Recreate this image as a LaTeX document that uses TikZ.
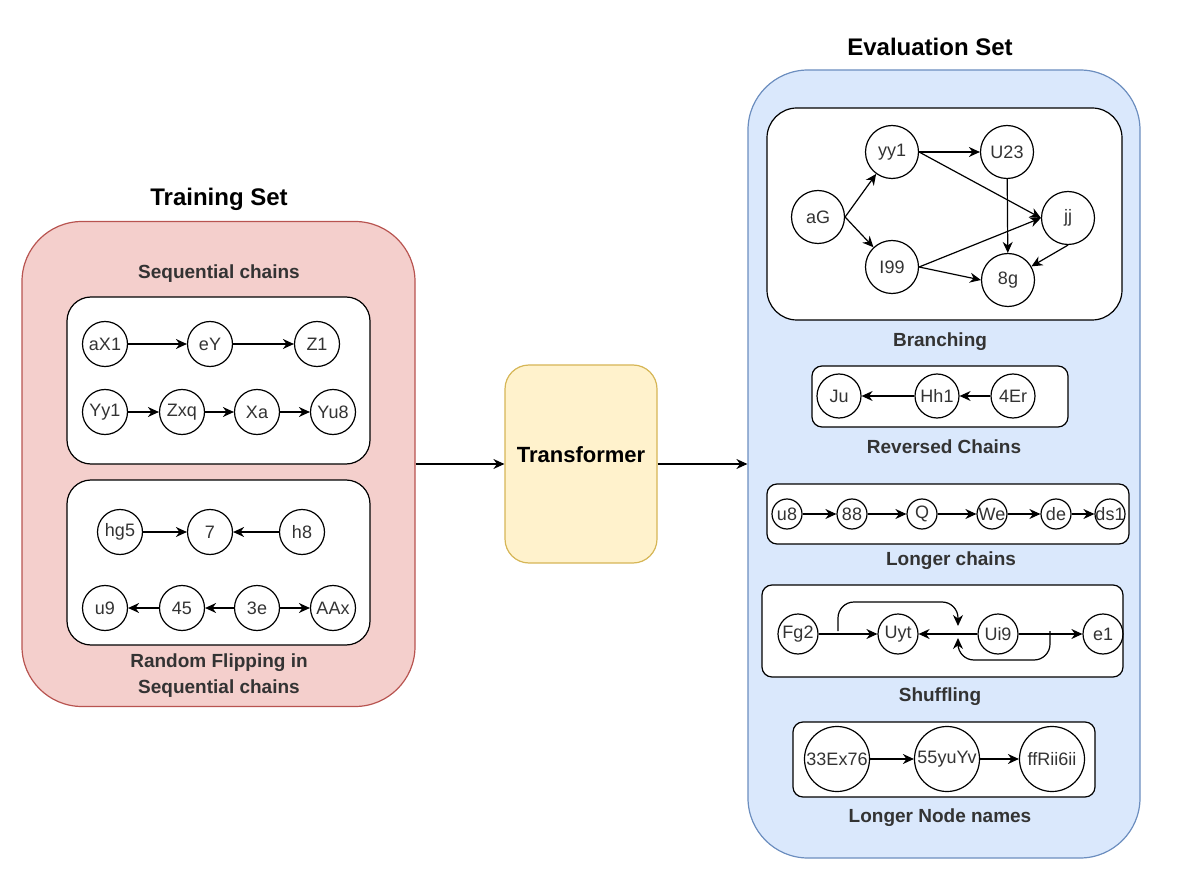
\documentclass[tikz,border=0pt]{standalone}
\usepackage{fontspec}
\setmainfont{Liberation Sans}
\setsansfont{Liberation Sans}
\usetikzlibrary{arrows.meta}
\definecolor{trainfill}{HTML}{F4CFCC}
\definecolor{traindraw}{HTML}{B85450}
\definecolor{evalfill}{HTML}{DAE8FC}
\definecolor{evaldraw}{HTML}{6C8EBF}
\definecolor{transfill}{HTML}{FFF2CC}
\definecolor{transdraw}{HTML}{D6B656}
\definecolor{txtgray}{HTML}{333333}
\begin{document}
\begin{tikzpicture}[x=0.5pt,y=-0.5pt,
	vtx/.style={circle,draw,line width=0.6pt,inner sep=0pt,minimum size=#1,font=\fontsize{9}{10}\selectfont,text=txtgray},
	vtx/.default=22.5pt,
	box/.style={draw,line width=0.6pt,inner sep=0pt,fill=white},
	arr/.style={-{Stealth[length=5.5pt,width=5pt]},line width=0.6pt},
	title/.style={font=\fontsize{12}{14}\selectfont\bfseries},
	sub/.style={font=\fontsize{9.5}{13}\selectfont\bfseries,text=txtgray,align=center}]
	\useasboundingbox (0,0) rectangle (1200,882);
	% the three big blocks
	\node[draw=traindraw,fill=trainfill,line width=0.6pt,rounded corners=30pt,minimum width=196.5pt,minimum height=242.5pt] (train) at (218.5,464) {};
	\node[draw=transdraw,fill=transfill,line width=0.6pt,rounded corners=12pt,minimum width=76pt,minimum height=99pt] (trans) at (581,464) {};
	\node[draw=evaldraw,fill=evalfill,line width=0.6pt,rounded corners=30pt,minimum width=196pt,minimum height=394pt] (eval) at (944,464) {};
	\node[title] (traintitle) at (219,199) {Training Set};
	\node[title] (evaltitle) at (930,47) {Evaluation Set};
	\node[title,font=\fontsize{11}{13}\selectfont\bfseries] (transtxt) at (581,455) {Transformer};
	\draw[arr] (train.east) -- (trans.west);
	\draw[arr] (trans.east) -- (eval.west);
	% training set
	\node[sub] (seqtxt) at (219,274) {Sequential chains};
	\node[box,rounded corners=12pt,minimum width=151.5pt,minimum height=83.5pt] (seqbox) at (218.5,380.5) {};
	\node[vtx] (aX1) at (105,344) {aX1};
	\node[vtx] (eY) at (210,344) {eY};
	\node[vtx] (Z1) at (317,344) {Z1};
	\node[vtx] (Yy1) at (105,412) {Yy1};
	\node[vtx] (Zxq) at (182,412) {Zxq};
	\node[vtx] (Xa) at (257,412) {Xa};
	\node[vtx] (Yu8) at (333,412) {Yu8};
	\draw[arr] (aX1) -- (eY);
	\draw[arr] (eY) -- (Z1);
	\draw[arr] (Yy1) -- (Zxq);
	\draw[arr] (Zxq) -- (Xa);
	\draw[arr] (Xa) -- (Yu8);
	\node[box,rounded corners=12pt,minimum width=151.5pt,minimum height=82.5pt] (flipbox) at (218.5,562.5) {};
	\node[vtx] (hg5) at (120,532) {hg5};
	\node[vtx] (n7) at (210,532) {7};
	\node[vtx] (h8) at (302,532) {h8};
	\node[vtx] (u9) at (105,608) {u9};
	\node[vtx] (n45) at (182,608) {45};
	\node[vtx] (n3e) at (257,608) {3e};
	\node[vtx] (AAx) at (333,608) {AAx};
	\draw[arr] (hg5) -- (n7);
	\draw[arr] (h8) -- (n7);
	\draw[arr] (n45) -- (u9);
	\draw[arr] (n3e) -- (n45);
	\draw[arr] (n3e) -- (AAx);
	\node[sub] (fliptxt) at (219,676) {Random Flipping in\\Sequential chains};
	% evaluation set
	\node[box,rounded corners=15pt,minimum width=177.5pt,minimum height=106pt] (branchbox) at (944.5,214) {};
	\node[vtx=26.5pt] (aG) at (818,217) {aG};
	\node[vtx=26.5pt] (yy1) at (892,152) {yy1};
	\node[vtx=26.5pt] (U23) at (1007,152) {U23};
	\node[vtx=26.5pt] (jj) at (1068,218) {jj};
	\node[vtx=26.5pt] (I99) at (892,267) {I99};
	\node[vtx=26.5pt] (g8) at (1008,280) {8g};
	\draw[arr] (aG.east) -- (yy1);
	\draw[arr] (aG.east) -- (I99);
	\draw[arr] (yy1) -- (U23);
	\draw[arr] (yy1.east) -- (jj.west);
	\draw[arr] (I99.east) -- (jj.west);
	\draw[arr] (I99.east) -- (g8.west);
	\draw[arr] (U23) -- (g8);
	\draw[arr] (jj.south) -- (g8);
	\node[sub] (branchtxt) at (940,342) {Branching};
	\node[box,rounded corners=5pt,minimum width=128pt,minimum height=30.5pt] (revbox) at (940,396.5) {};
	\node[vtx=22pt] (Ju) at (839,396) {Ju};
	\node[vtx=22pt] (Hh1) at (937,396) {Hh1};
	\node[vtx=22pt] (Er4) at (1013,396) {4Er};
	\draw[arr] (Hh1) -- (Ju);
	\draw[arr] (Er4) -- (Hh1);
	\node[sub] (revtxt) at (944,447) {Reversed Chains};
	\node[box,rounded corners=5pt,minimum width=181pt,minimum height=30pt] (longbox) at (948,514) {};
	\node[vtx=15pt,inner sep=-3pt] (u8) at (787,514) {u8};
	\node[vtx=15pt,inner sep=-3pt] (n88) at (852,514) {88};
	\node[vtx=15pt,inner sep=-3pt] (Q) at (922,514) {Q};
	\node[vtx=15pt,inner sep=-3pt] (We) at (992,514) {We};
	\node[vtx=15pt,inner sep=-3pt] (de) at (1056,514) {de};
	\node[vtx=15pt,inner sep=-3pt] (ds1) at (1110,514) {ds1};
	\draw[arr] (u8) -- (n88);
	\draw[arr] (n88) -- (Q);
	\draw[arr] (Q) -- (We);
	\draw[arr] (We) -- (de);
	\draw[arr] (de) -- (ds1);
	\node[sub] (longtxt) at (951,561) {Longer chains};
	\node[box,rounded corners=5pt,minimum width=180.5pt,minimum height=46pt] (shufbox) at (942.5,631) {};
	\node[vtx=20pt] (Fg2) at (798,634) {Fg2};
	\node[vtx=20pt] (Uyt) at (898,634) {Uyt};
	\node[vtx=20pt] (Ui9) at (998,634) {Ui9};
	\node[vtx=20pt] (e1) at (1103,634) {e1};
	\coordinate (hookA) at (838,631);
	\coordinate (tipA) at (958,626);
	\coordinate (hookB) at (1050,631);
	\coordinate (tipB) at (958,638);
	\draw[arr] (Fg2) -- (Uyt);
	\draw[arr] (Ui9) -- (Uyt);
	\draw[arr] (Ui9) -- (e1);
	\draw[arr,rounded corners=8pt] (hookA) -- (838,602) -- (958,602) -- (tipA);
	\draw[arr,rounded corners=8pt] (hookB) -- (1050,660) -- (958,660) -- (tipB);
	\node[sub] (shuftxt) at (940,697) {Shuffling};
	\node[box,rounded corners=5pt,minimum width=151pt,minimum height=37.5pt] (namebox) at (944,759.5) {};
	\node[vtx=32.5pt] (Ex76) at (837,759) {33Ex76};
	\node[vtx=32.5pt] (yuYv) at (947,759) {55yuYv};
	\node[vtx=32.5pt] (ffRii) at (1052,759) {ffRii6ii};
	\draw[arr] (Ex76) -- (yuYv);
	\draw[arr] (yuYv) -- (ffRii);
	\node[sub] (nametxt) at (940,818) {Longer Node names};
\end{tikzpicture}
\end{document}
